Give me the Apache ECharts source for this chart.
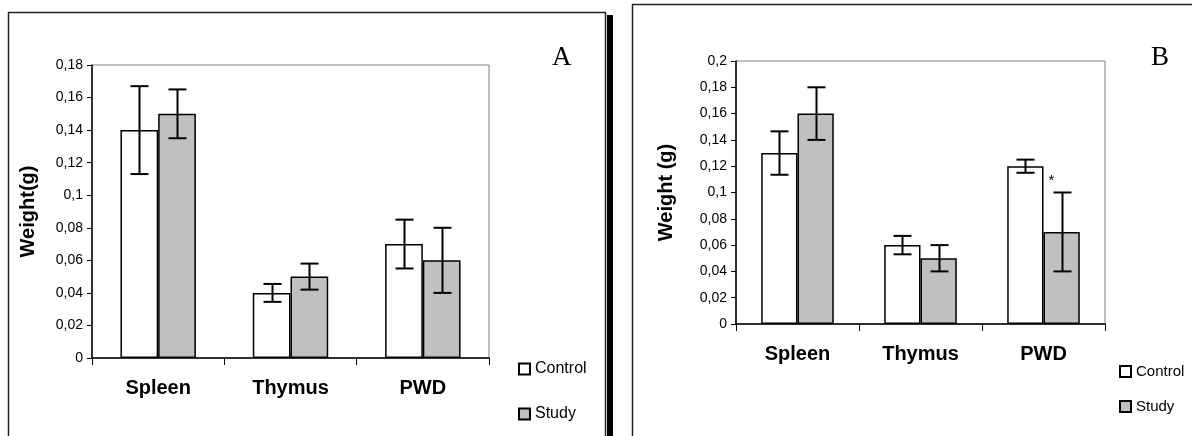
<!DOCTYPE html>
<html>
<head>
<meta charset="utf-8">
<script src="https://cdn.jsdelivr.net/npm/echarts@6/dist/echarts.min.js"></script>
<style>
  html, body { margin: 0; padding: 0; background: #fff; }
  #chart { width: 1192px; height: 436px; }
</style>
</head>
<body>
<div id="chart"></div>
<script>
// data
var categories = ["Spleen", "Thymus", "PWD"];

var controlA = [0.14, 0.04, 0.07];
var studyA = [0.15, 0.05, 0.06];
var controlAErr = [0.027, 0.0055, 0.015];
var studyAErr = [0.015, 0.008, 0.02];

var controlB = [0.13, 0.06, 0.12];
var studyB = [0.16, 0.05, 0.07];
var controlBErr = [0.0165, 0.007, 0.005];
var studyBErr = [0.02, 0.01, 0.03];

var maxA = 0.18, maxB = 0.2, tickStep = 0.02;
var gapA = 0.43, gapB = 0.41;

var font = "Liberation Sans, Arial, sans-serif";

function errData(vals, errs) {
    return vals.map(function (v, i) { return [i, v - errs[i], v + errs[i]]; });
}

// draws an I-beam over the left (side=-1) or right (side=1) bar of a pair
function errorItem(side, gapFrac) {
    return function (params, api) {
        var cat = api.value(0);
        var hi = api.coord([cat, api.value(2)]);
        var lo = api.coord([cat, api.value(1)]);
        var band = api.size([1, 0])[0];
        var bw = band * (1 - gapFrac) / 2;
        var x = Math.round(hi[0] + side * bw / 2) + 0.5;
        var cap = 9;
        var st = { stroke: "#000", lineWidth: 2 };
        return {
            type: "group",
            children: [
                { type: "line", shape: { x1: x, y1: hi[1], x2: x, y2: lo[1] }, style: st },
                { type: "line", shape: { x1: x - cap, y1: hi[1], x2: x + cap, y2: hi[1] }, style: st },
                { type: "line", shape: { x1: x - cap, y1: lo[1], x2: x + cap, y2: lo[1] }, style: st }
            ]
        };
    };
}

function commaFmt(v) {
    return (+v.toFixed(2)).toString().replace(".", ",");
}

function xAxisFor(idx) {
    return {
        type: "category", gridIndex: idx, data: categories,
        axisLine: { lineStyle: { color: "#000", width: 1.5 } },
        axisTick: { show: true, length: 7, lineStyle: { color: "#000" } },
        axisLabel: { color: "#000", fontFamily: font, fontWeight: "bold", fontSize: 20, margin: 20 },
        splitLine: { show: false }
    };
}

function yAxisFor(idx, max, name, gap) {
    return {
        type: "value", gridIndex: idx, min: 0, max: max, interval: tickStep,
        name: name, nameLocation: "middle", nameGap: gap, nameRotate: 90,
        nameTextStyle: { color: "#000", fontFamily: font, fontWeight: "bold", fontSize: 20 },
        axisLine: { show: true, lineStyle: { color: "#000", width: 1.5 } },
        axisTick: { show: true, length: 5, lineStyle: { color: "#000" } },
        axisLabel: { color: "#000", fontFamily: font, fontSize: 14, margin: 9, formatter: commaFmt },
        splitLine: { show: false }
    };
}

function legendItem(name, left, top, size) {
    return {
        orient: "vertical", left: left, top: top, padding: 0, itemWidth: 11, itemHeight: 11,
        icon: "rect", data: [name], selectedMode: false,
        textStyle: { color: "#000", fontFamily: font, fontSize: size }
    };
}

var barStyle = function (color) {
    return { color: color, borderColor: "#000", borderWidth: 1.5 };
};

var dom = document.getElementById("chart");
var myChart = echarts.init(dom, null, { renderer: "canvas" });

var option = {
    animation: false,
    backgroundColor: "#fff",
    grid: [
        { left: 92, top: 65, width: 397, height: 293, show: true, borderColor: "#808080", borderWidth: 1, backgroundColor: "transparent" },
        { left: 736, top: 61, width: 369, height: 263, show: true, borderColor: "#808080", borderWidth: 1, backgroundColor: "transparent" }
    ],
    xAxis: [xAxisFor(0), xAxisFor(1)],
    yAxis: [yAxisFor(0, maxA, "Weight(g)", 54), yAxisFor(1, maxB, "Weight (g)", 60)],
    legend: [
        legendItem("Control", 518, 361, 16),
        legendItem("Study", 518, 406, 16),
        legendItem("Control", 1119, 364, 15),
        legendItem("Study", 1119, 399, 15)
    ],
    series: [
        { name: "Control", type: "bar", xAxisIndex: 0, yAxisIndex: 0, data: controlA, barGap: "0%", barCategoryGap: gapA * 100 + "%", itemStyle: barStyle("#ffffff") },
        { name: "Study", type: "bar", xAxisIndex: 0, yAxisIndex: 0, data: studyA, barGap: "0%", barCategoryGap: gapA * 100 + "%", itemStyle: barStyle("#c0c0c0") },
        { name: "Control", type: "bar", xAxisIndex: 1, yAxisIndex: 1, data: controlB, barGap: "0%", barCategoryGap: gapB * 100 + "%", itemStyle: barStyle("#ffffff") },
        { name: "Study", type: "bar", xAxisIndex: 1, yAxisIndex: 1, data: studyB, barGap: "0%", barCategoryGap: gapB * 100 + "%", itemStyle: barStyle("#c0c0c0") },
        { type: "custom", xAxisIndex: 0, yAxisIndex: 0, data: errData(controlA, controlAErr), renderItem: errorItem(-1, gapA), encode: { x: 0, y: [1, 2] }, z: 5 },
        { type: "custom", xAxisIndex: 0, yAxisIndex: 0, data: errData(studyA, studyAErr), renderItem: errorItem(1, gapA), encode: { x: 0, y: [1, 2] }, z: 5 },
        { type: "custom", xAxisIndex: 1, yAxisIndex: 1, data: errData(controlB, controlBErr), renderItem: errorItem(-1, gapB), encode: { x: 0, y: [1, 2] }, z: 5 },
        { type: "custom", xAxisIndex: 1, yAxisIndex: 1, data: errData(studyB, studyBErr), renderItem: errorItem(1, gapB), encode: { x: 0, y: [1, 2] }, z: 5 }
    ],
    graphic: [
        // panel frames
        { id: "frameA", type: "rect", shape: { x: 8.5, y: 12.5, width: 597, height: 440 }, style: { fill: "none", stroke: "#222", lineWidth: 1.5 }, z: 100 },
        { id: "shadowA", type: "rect", shape: { x: 607, y: 15, width: 6, height: 430 }, style: { fill: "#000" }, z: 100 },
        { id: "frameB", type: "rect", shape: { x: 632.5, y: 4.5, width: 600, height: 440 }, style: { fill: "none", stroke: "#222", lineWidth: 1.5 }, z: 100 },
        // panel letters
        { id: "letterA", type: "text", left: 552, top: 44, style: { text: "A", fill: "#000", font: "27px Liberation Serif, Times New Roman, serif" }, z: 100 },
        { id: "letterB", type: "text", left: 1151, top: 44, style: { text: "B", fill: "#000", font: "27px Liberation Serif, Times New Roman, serif" }, z: 100 }
    ]
};

option && "object" == typeof option && myChart.setOption(option, true);

// significance star above the PWD study bar in panel B
var star = myChart.convertToPixel({ gridIndex: 1 }, ["PWD", 0.11]);
myChart.setOption({
    graphic: [
        { id: "star", type: "text", x: star[0] + 5, y: star[1] - 6, style: { text: "*", fill: "#000", font: "15px Liberation Sans, Arial, sans-serif" }, z: 100 }
    ]
});
</script>
</body>
</html>
